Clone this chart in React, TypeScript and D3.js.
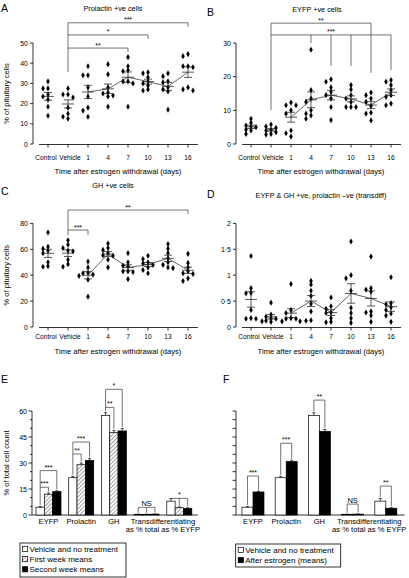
import React from "react";
import * as d3 from "d3";

const FONT = "'Liberation Sans', Arial, Helvetica, sans-serif";

const timeGroups = ["Control", "Vehicle", "1", "4", "7", "10", "13", "16"];

const prolactinCells = [
  [31, 27.5, 27.5, 24.5, 23.5, 22, 18.5, 14],
  [27.5, 24.5, 24.5, 23, 18, 15, 13.5, 12.5],
  [38.5, 34, 34, 28, 23.5, 18, 16.5, 13.5],
  [39.5, 34.5, 28, 25.5, 25, 24, 23.5, 18.5],
  [43, 38.5, 36.5, 36, 31, 31, 30, 18.5],
  [35.5, 35, 33, 31, 30, 29, 27, 26.5],
  [35, 33.5, 31, 30.5, 28, 27, 26, 17],
  [44.5, 43.5, 38.5, 38.5, 38, 28, 27, 26.5],
];
const eyfpCells = [
  [7.5, 6.3, 5.5, 5.2, 5, 4.3, 4, 3],
  [5.8, 5.2, 4.8, 4.3, 4, 3.5, 3, 2.8],
  [12.3, 11.5, 11.5, 10, 9, 4, 3.2, 2.2],
  [28, 16, 13.5, 12.5, 10, 9, 8.5, 7.5],
  [19.2, 18.5, 16.8, 15.5, 14.5, 13.5, 11, 7.1],
  [17.5, 16.2, 14.5, 13.5, 12.5, 11, 11, 11],
  [15.3, 14.5, 13.5, 12.5, 11.3, 9.3, 9, 7],
  [19, 18.5, 17.5, 16, 14.5, 14, 12, 11.5],
];
const ghCells = [
  [73, 62, 60.5, 59, 57, 50, 47, 46.5],
  [67, 63.5, 61, 59, 58.5, 52, 48.5, 46.5],
  [50.5, 46, 42, 41.5, 40.5, 39.5, 36.5, 23.4],
  [64.5, 61, 59.5, 57, 55.5, 55, 52, 46],
  [57, 50, 47.5, 47, 43, 43, 42.5, 37],
  [55, 52.5, 50, 49, 48, 46, 44, 41.5],
  [64, 60.5, 57, 53, 50, 48, 46, 45.5],
  [56.5, 49.5, 46, 43, 41.5, 41, 37.5, 35.5],
];
const transdiffCells = [
  [1.37, 0.75, 0.66, 0.65, 0.33, 0.17, 0.16, 0.16],
  [0.47, 0.24, 0.2, 0.17, 0.16, 0.12, 0.11, 0.1],
  [0.83, 0.33, 0.27, 0.17, 0.16, 0.16, 0.11, 0.11],
  [0.89, 0.82, 0.7, 0.6, 0.45, 0.3, 0.13, 0.12],
  [0.57, 0.4, 0.35, 0.28, 0.27, 0.17, 0.1, 0.09],
  [1.65, 1.0, 0.94, 0.7, 0.37, 0.27, 0.17, 0.08],
  [1.36, 0.75, 0.72, 0.68, 0.3, 0.28, 0.22, 0.1],
  [0.96, 0.46, 0.44, 0.38, 0.33, 0.26, 0.22, 0.1],
];

const prolactinTicks = [0, 10, 20, 30, 40, 50];
const eyfpTicks = [0, 10, 20, 30];
const ghTicks = [0, 20, 40, 60, 80];
const transdiffTicks = [0, 0.5, 1, 1.5, 2];

type Bracket = { from: string; to: string; at: number; label: string; legs: [string, number][] };

const prolactinBrackets: Bracket[] = [
  { from: "Vehicle", to: "16", at: 60, label: "***", legs: [["Vehicle", 35.6], ["16", 58]] },
  { from: "Vehicle", to: "10", at: 54, label: "*", legs: [["10", 52]] },
  { from: "Vehicle", to: "7", at: 47.5, label: "**", legs: [["7", 45.5]] },
];
const eyfpBrackets: Bracket[] = [
  { from: "Vehicle", to: "13", at: 35.9, label: "**", legs: [["Vehicle", 10.1], ["13", 21.1]] },
  { from: "Vehicle", to: "16", at: 32.4, label: "***", legs: [["4", 30], ["7", 23.2], ["10", 23.2], ["16", 22]] },
];
const ghBrackets: Bracket[] = [
  { from: "Vehicle", to: "16", at: 90.3, label: "**", legs: [["Vehicle", 71], ["16", 87.2]] },
  { from: "Vehicle", to: "1", at: 74.9, label: "***", legs: [["1", 71]] },
];

const barGroups = ["EYFP", "Prolactin", "GH", "TransTotal", "TransEYFP"];
const barTickValues = d3.range(0, 61, 5);
const barTickLabels = [0, 15, 30, 45, 60];
const vehicleMeans = [4.5, 21.5, 57.5, 0.4, 8];
const vehicleSem = [0.4, 0.8, 1.5, 0.1, 1.5];
const firstWeekMeans = [12, 29, 47.5, 0.4, 4.2];
const firstWeekSem = [0.7, 1, 1.2, 0.1, 0.5];
const secondWeekMeans = [13.5, 31.5, 48.5, 0.5, 3.8];
const secondWeekSem = [0.5, 1, 1.4, 0.1, 0.4];
const afterMeans = [13.3, 30.8, 48.3, 0.5, 3.9];
const afterSem = [0.5, 0.8, 1, 0.1, 0.3];

type BarBracket = { g: number; from: number; to: number; at: number; label: string; legs: number[] };
const eBrackets: BarBracket[] = [
  { g: 0, from: 0, to: 1, at: 16, label: "***", legs: [1] },
  { g: 0, from: 0, to: 2, at: 25.6, label: "***", legs: [0, 2] },
  { g: 1, from: 0, to: 1, at: 35.2, label: "**", legs: [1] },
  { g: 1, from: 0, to: 2, at: 42.1, label: "***", legs: [0, 2] },
  { g: 2, from: 0, to: 1, at: 62.1, label: "**", legs: [1] },
  { g: 2, from: 0, to: 2, at: 72.5, label: "*", legs: [0, 2] },
  { g: 3, from: 0, to: 2, at: 4.4, label: "NS", legs: [0, 1, 2] },
  { g: 4, from: 0, to: 2, at: 9.6, label: "*", legs: [0, 1, 2] },
];
const fBrackets: BarBracket[] = [
  { g: 0, from: 0, to: 1, at: 22.5, label: "***", legs: [0, 1] },
  { g: 1, from: 0, to: 1, at: 41.4, label: "***", legs: [0, 1] },
  { g: 2, from: 0, to: 1, at: 66.3, label: "**", legs: [0, 1] },
  { g: 3, from: 0, to: 1, at: 6.3, label: "NS", legs: [0, 1] },
  { g: 4, from: 0, to: 1, at: 16.7, label: "**", legs: [0, 1] },
];

// greedy collision dodge: each point takes the first horizontal offset that does not overlap
function dodge(vals: number[], py: (v: number) => number) {
  const candidates = [0, -5, 5, -9, 9, -13, 13];
  const order = vals.map((v, i) => ({ i, p: py(v) })).sort((a, b) => a.p - b.p);
  const placed: { x: number; y: number }[] = [];
  const out = new Array(vals.length).fill(0);
  for (const it of order) {
    let chosen = candidates[candidates.length - 1];
    for (const c of candidates) {
      if (placed.every((q) => Math.hypot(q.x - c, q.y - it.p) >= 3.6)) {
        chosen = c;
        break;
      }
    }
    placed.push({ x: chosen, y: it.p });
    out[it.i] = chosen;
  }
  return out;
}

const diamond = d3.symbol(d3.symbolDiamond, 11)() as string;

function ScatterPanel(props: any) {
  const { values, x0, top, bottom, domain, ticks, fmt, title, titleX, titleY, letter, letterX, letterY, brackets, ylabel, tickLabelY, xlabelY } = props;
  const x = d3.scalePoint<string>().domain(timeGroups).range([x0, x0 + 140]);
  const y = d3.scaleLinear().domain(domain).range([bottom, top]);
  const axisX = x0 - 15;
  const means = values.map((v: number[]) => d3.mean(v) as number);
  const sems = values.map((v: number[]) => (d3.deviation(v) as number) / Math.sqrt(v.length));
  const line = d3
    .line<number>()
    .x((_, i) => x(timeGroups[i + 2]) as number)
    .y((d) => y(d));
  const tickDx: Record<string, number> = { Control: -2, Vehicle: 2 };
  return (
    <g fontFamily={FONT}>
      <text x={letterX} y={letterY} fontSize={10.5}>{letter}</text>
      <text x={titleX} y={titleY} fontSize={7.3} textAnchor="middle">{title}</text>
      <line x1={axisX} x2={axisX} y1={y(domain[0])} y2={y(domain[1])} stroke="#000" strokeWidth={0.8} />
      {ticks.map((t: number) => (
        <g key={t}>
          <line x1={axisX - 3} x2={axisX} y1={y(t)} y2={y(t)} stroke="#000" strokeWidth={0.8} />
          <text x={axisX - 5} y={y(t) + 2.5} fontSize={7} textAnchor="end">{fmt(t)}</text>
        </g>
      ))}
      {ylabel && (
        <text transform={`translate(9,${(y(domain[0]) + y(domain[1])) / 2}) rotate(-90)`} fontSize={7.5} textAnchor="middle">{ylabel}</text>
      )}
      <line x1={x0 - 9} x2={x0 + 150} y1={bottom + 0.5} y2={bottom + 0.5} stroke="#000" strokeWidth={0.8} />
      {timeGroups.map((g) => (
        <g key={g}>
          <line x1={x(g)} x2={x(g)} y1={bottom + 0.5} y2={bottom + 3.5} stroke="#000" strokeWidth={0.8} />
          <text x={(x(g) as number) + (tickDx[g] || 0)} y={tickLabelY} fontSize={6.6} textAnchor="middle">{g}</text>
        </g>
      ))}
      <text x={x0 + 70} y={xlabelY} fontSize={7.6} textAnchor="middle">Time after estrogen withdrawal (days)</text>
      {brackets.map((b: Bracket, k: number) => {
        const xa = x(b.from) as number;
        const xb = x(b.to) as number;
        const yy = y(b.at);
        return (
          <g key={k} stroke="#444" strokeWidth={0.75} fill="none">
            <line x1={xa} x2={xb} y1={yy} y2={yy} />
            {b.legs.map(([c, v], j) => (
              <line key={j} x1={x(c)} x2={x(c)} y1={yy} y2={y(v)} />
            ))}
            <text x={(xa + xb) / 2} y={yy - 0.5} fontSize={7} textAnchor="middle" fill="#000" stroke="none">{b.label}</text>
          </g>
        );
      })}
      {values.map((vals: number[], gi: number) => {
        const off = dodge(vals, (v) => y(v));
        const cx = x(timeGroups[gi]) as number;
        return vals.map((v, j) => (
          <path key={`${gi}-${j}`} d={diamond} transform={`translate(${cx + off[j]},${y(v)})`} fill="#000" />
        ));
      })}
      <path d={line(means.slice(2)) as string} fill="none" stroke="#222" strokeWidth={0.7} />
      {means.map((m: number, gi: number) => {
        const cx = x(timeGroups[gi]) as number;
        const s = sems[gi];
        return (
          <g key={gi} stroke="#222" strokeWidth={0.75}>
            <line x1={cx - 6} x2={cx + 6} y1={y(m)} y2={y(m)} />
            <line x1={cx} x2={cx} y1={y(m - s)} y2={y(m + s)} />
            <line x1={cx - 4} x2={cx + 4} y1={y(m - s)} y2={y(m - s)} />
            <line x1={cx - 4} x2={cx + 4} y1={y(m + s)} y2={y(m + s)} />
          </g>
        );
      })}
    </g>
  );
}

function BarPanel(props: any) {
  const { axisX, rangeEnd, pInner, pOuter, series, brackets, letter, letterX, letterY, ylabel, showLabels, legendBox, legendItems } = props;
  const yB = d3.scaleLinear().domain([0, 60]).range([515, 411]);
  const band = d3.scaleBand<string>().domain(barGroups).range([axisX, rangeEnd]).paddingInner(pInner).paddingOuter(pOuter);
  const sub = d3.scaleBand<number>().domain(d3.range(series.length)).range([0, band.bandwidth()]);
  const cx = (g: number, i: number) => (band(barGroups[g]) as number) + (sub(i) as number) + sub.bandwidth() / 2;
  const fillOf = (f: string) => (f === "hatch" ? "url(#hatch)" : f);
  const mid = (g: number) => (band(barGroups[g]) as number) + band.bandwidth() / 2;
  return (
    <g fontFamily={FONT}>
      <text x={letterX} y={letterY} fontSize={10.5}>{letter}</text>
      <line x1={axisX} x2={axisX} y1={yB(0)} y2={yB(60)} stroke="#000" strokeWidth={0.8} />
      {barTickValues.map((t) => {
        const major = barTickLabels.includes(t);
        return (
          <g key={t}>
            <line x1={axisX - (major || !showLabels ? 3.5 : 2)} x2={axisX} y1={yB(t)} y2={yB(t)} stroke="#000" strokeWidth={0.8} />
            {showLabels && major && (
              <text x={axisX - 5} y={yB(t) + 2.5} fontSize={7} textAnchor="end">{t}</text>
            )}
          </g>
        );
      })}
      {ylabel && (
        <text transform={`translate(9,${(yB(0) + yB(60)) / 2}) rotate(-90)`} fontSize={7.5} textAnchor="middle">{ylabel}</text>
      )}
      <line x1={axisX} x2={rangeEnd + 2} y1={yB(0)} y2={yB(0)} stroke="#000" strokeWidth={0.8} />
      {series.map((s: any, i: number) =>
        s.means.map((m: number, g: number) => {
          const bx = (band(barGroups[g]) as number) + (sub(i) as number);
          const c = cx(g, i);
          return (
            <g key={`${i}-${g}`}>
              <rect x={bx} y={yB(m)} width={sub.bandwidth()} height={yB(0) - yB(m)} fill={fillOf(s.fill)} stroke="#000" strokeWidth={0.7} />
              <line x1={c} x2={c} y1={yB(m)} y2={yB(m + s.sems[g])} stroke="#000" strokeWidth={0.7} />
              <line x1={c - 1.5} x2={c + 1.5} y1={yB(m + s.sems[g])} y2={yB(m + s.sems[g])} stroke="#000" strokeWidth={0.7} />
            </g>
          );
        })
      )}
      {brackets.map((b: BarBracket, k: number) => {
        const xa = cx(b.g, b.from);
        const xb = cx(b.g, b.to);
        const yy = yB(b.at);
        return (
          <g key={k} stroke="#444" strokeWidth={0.75}>
            <line x1={xa} x2={xb} y1={yy} y2={yy} />
            {b.legs.map((li) => {
              const s = series[li];
              const bottom = yB(s.means[b.g] + s.sems[b.g]) - 1.5;
              return bottom > yy ? <line key={li} x1={cx(b.g, li)} x2={cx(b.g, li)} y1={yy} y2={bottom} /> : null;
            })}
            <text x={(xa + xb) / 2} y={yy - 1} fontSize={b.label === "NS" ? 7.5 : 7} textAnchor="middle" fill="#000" stroke="none">{b.label}</text>
          </g>
        );
      })}
      {["EYFP", "Prolactin", "GH"].map((l, g) => (
        <text key={l} x={mid(g)} y={524} fontSize={7.6} textAnchor="middle">{l}</text>
      ))}
      <text x={(mid(3) + mid(4)) / 2} y={524} fontSize={7.6} textAnchor="middle">Transdifferentiating</text>
      <text x={(mid(3) + mid(4)) / 2} y={532} fontSize={7.6} textAnchor="middle">as % total as % EYFP</text>
      <rect x={legendBox[0]} y={legendBox[1]} width={legendBox[2]} height={legendBox[3]} fill="none" stroke="#000" strokeWidth={0.8} />
      {legendItems.map((it: any, k: number) => (
        <g key={k}>
          <rect x={legendBox[0] + 2.5} y={legendBox[1] + 3.3 + k * 10.2} width={5.2} height={5.2} fill={fillOf(it.fill)} stroke="#000" strokeWidth={0.7} />
          <text x={legendBox[0] + 9.5} y={legendBox[1] + 8.6 + k * 10.2} fontSize={8}>{it.label}</text>
        </g>
      ))}
    </g>
  );
}

export default function App() {
  const fmtInt = (t: number) => String(t);
  const fmtDot = (t: number) => String(t).replace(".", "·");
  return (
    <svg width={409} height={578} style={{ position: "absolute", left: 0, top: 0, background: "#fff" }}>
      <defs>
        <pattern id="hatch" width={2.8} height={2.8} patternUnits="userSpaceOnUse" patternTransform="rotate(45)">
          <rect width={2.8} height={2.8} fill="#fff" />
          <line x1={0} y1={0} x2={0} y2={2.8} stroke="#000" strokeWidth={0.7} />
        </pattern>
      </defs>
      <rect width={409} height={578} fill="#fff" />
      <ScatterPanel values={prolactinCells} x0={48} top={43} bottom={144} domain={[0, 50]} ticks={prolactinTicks} fmt={fmtInt}
        title="Prolactin +ve cells" titleX={113} titleY={10.5} letter="A" letterX={1} letterY={11.5}
        brackets={prolactinBrackets} ylabel="% of pituitary cells" tickLabelY={159.5} xlabelY={173.5} />
      <ScatterPanel values={eyfpCells} x0={251} top={43} bottom={144} domain={[0, 30]} ticks={eyfpTicks} fmt={fmtInt}
        title="EYFP +ve cells" titleX={317} titleY={11.5} letter="B" letterX={207} letterY={15.5}
        brackets={eyfpBrackets} tickLabelY={159.5} xlabelY={173.5} />
      <ScatterPanel values={ghCells} x0={48} top={223.4} bottom={327} domain={[0, 80]} ticks={ghTicks} fmt={fmtInt}
        title="GH +ve cells" titleX={113} titleY={188} letter="C" letterX={1} letterY={195}
        brackets={ghBrackets} ylabel="% of pituitary cells" tickLabelY={339} xlabelY={353.5} />
      <ScatterPanel values={transdiffCells} x0={251} top={223.4} bottom={327} domain={[0, 2]} ticks={transdiffTicks} fmt={fmtDot}
        title="EYFP & GH +ve, prolactin –ve (transdiff)" titleX={321} titleY={198} letter="D" letterX={207} letterY={198}
        brackets={[]} tickLabelY={339} xlabelY={353.5} />
      <BarPanel axisX={32} rangeEnd={195.8} pInner={0.235} pOuter={0.122}
        series={[
          { means: vehicleMeans, sems: vehicleSem, fill: "#fff" },
          { means: firstWeekMeans, sems: firstWeekSem, fill: "hatch" },
          { means: secondWeekMeans, sems: secondWeekSem, fill: "#000" },
        ]}
        brackets={eBrackets} letter="E" letterX={1} letterY={383} ylabel="% of total cell count" showLabels={true}
        legendBox={[20, 543, 106, 34]}
        legendItems={[
          { fill: "#fff", label: "Vehicle and no treatment" },
          { fill: "hatch", label: "First week means" },
          { fill: "#000", label: "Second week means" },
        ]} />
      <BarPanel axisX={236} rangeEnd={402.8} pInner={0.337} pOuter={0.18}
        series={[
          { means: vehicleMeans, sems: vehicleSem, fill: "#fff" },
          { means: afterMeans, sems: afterSem, fill: "#000" },
        ]}
        brackets={fBrackets} letter="F" letterX={223} letterY={383} showLabels={false}
        legendBox={[235.7, 544, 105, 23]}
        legendItems={[
          { fill: "#fff", label: "Vehicle and no treatment" },
          { fill: "#000", label: "After estrogen (means)" },
        ]} />
    </svg>
  );
}
